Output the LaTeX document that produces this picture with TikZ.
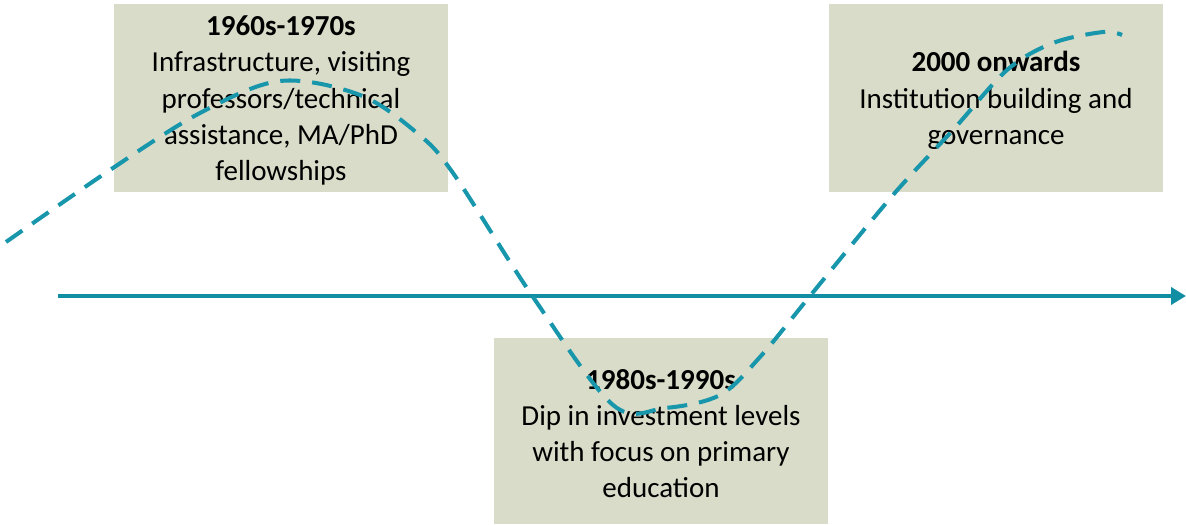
\documentclass[tikz,border=0pt]{standalone}
\usepackage{fontspec}
\setmainfont{Carlito}
\usepackage{tikz}
\usetikzlibrary{arrows.meta}
\definecolor{boxgrey}{RGB}{217,220,200}
\definecolor{waveteal}{RGB}{24,150,172}
\definecolor{axisteal}{RGB}{18,142,164}
\newcommand{\erahead}[1]{\rule{0pt}{0.5cm}\textbf{#1}}

\begin{document}
\begin{tikzpicture}[x=0.02cm, y=-0.02cm,
  era/.style={fill=boxgrey, minimum width=6.68cm, minimum height=3.76cm, align=center, inner sep=0pt, font=\fontsize{16.5}{20.6}\selectfont}]
\useasboundingbox (0,0) rectangle (1186,524);
\node[era] (early) at (281,98) {\erahead{1960s-1970s}\\Infrastructure, visiting\\professors/technical\\assistance, MA/PhD\\fellowships};
\node[era, minimum height=3.72cm] (dip) at (661,431) {\erahead{1980s-1990s}\\Dip in investment levels\\with focus on primary\\education};
\node[era] (recent) at (996,98) {\erahead{2000 onwards}\\Institution building and\\governance};
\coordinate (tstart) at (58,296);
\coordinate (tend) at (1186,296);
\draw[line width=2.3pt, color=axisteal, -{Triangle[length=0.3cm, width=0.34cm]}] (tstart) -- (tend);
\draw[line width=2.3pt, color=waveteal, dash pattern=on 0.4cm off 0.24cm] plot[smooth, tension=0.55] coordinates {(6,242) (110,170) (200,113) (280,81) (360,95) (417,133) (453,173) (533,297) (613,405) (665,408) (720,395) (760,357) (810,296) (893,195) (953,130) (1007,70) (1053,43) (1103,32) (1122,35)};
\end{tikzpicture}
\end{document}
